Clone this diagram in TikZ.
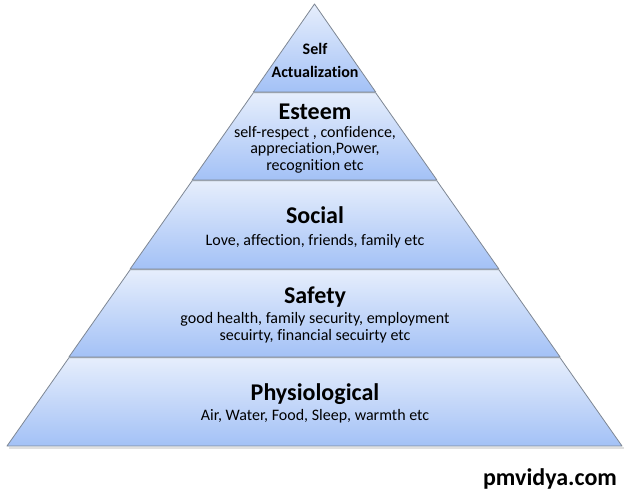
\documentclass[tikz,border=0pt]{standalone}
\usepackage{fontspec}
\setmainfont[Ligatures=NoCommon]{Carlito}
\definecolor{lyrtop}{HTML}{E6EEFC}
\definecolor{lyrbot}{HTML}{A3C1F6}
\definecolor{lyredge}{HTML}{7E8794}
\begin{document}
\begin{tikzpicture}[x=1pt,y=-1pt,
  layer/.style={draw=lyredge,line width=0.8pt,top color=lyrtop,bottom color=lyrbot,line join=round},
  ttl/.style={font=\fontsize{24}{26}\selectfont\bfseries,inner sep=0pt,anchor=base},
  body/.style={font=\fontsize{16}{18}\selectfont,inner sep=0pt,anchor=base},
  toptxt/.style={font=\fontsize{16}{18}\selectfont\bfseries,inner sep=0pt,anchor=base}]
\useasboundingbox[fill=white] (0,0) rectangle (629,501);
% shadow
\fill[black!12] (9,447) -- (624,447) -- (624,449) -- (9,449) -- cycle;
% layers
\path[layer] (314.5,4) -- (375.7,92) -- (253.3,92) -- cycle;
\path[layer] (253.3,92.8) -- (375.7,92.8) -- (436.9,180) -- (192.1,180) -- cycle;
\path[layer] (192.1,180.8) -- (436.9,180.8) -- (498.9,269) -- (130.1,269) -- cycle;
\path[layer] (130.1,269.8) -- (498.9,269.8) -- (560.1,357) -- (68.9,357) -- cycle;
\path[layer] (68.9,357.8) -- (560.1,357.8) -- (622,446) -- (7,446) -- cycle;
% texts
\node[toptxt] (self) at (315,54) {Self};
\node[toptxt] (actual) at (315,77) {Actualization};
\node[ttl] (esteem) at (315,119) {Esteem};
\node[body] (esteem1) at (315,137) {self-respect , confidence,};
\node[body] (esteem2) at (315,153.5) {appreciation,Power,};
\node[body] (esteem3) at (315,170) {recognition etc};
\node[ttl] (social) at (315,223) {Social};
\node[body] (social1) at (315,245) {Love, affection, friends, family etc};
\node[ttl] (safety) at (315,303) {Safety};
\node[body] (safety1) at (315,323.5) {good health, family security, employment};
\node[body] (safety2) at (315,340.5) {secuirty, financial secuirty etc};
\node[ttl] (physio) at (315,400) {Physiological};
\node[body] (physio1) at (315,420) {Air, Water, Food, Sleep, warmth etc};
\node[font=\fontsize{24}{26}\selectfont\bfseries,inner sep=0pt,anchor=base] (site) at (550,485) {pmvidya.com};
\end{tikzpicture}
\end{document}
